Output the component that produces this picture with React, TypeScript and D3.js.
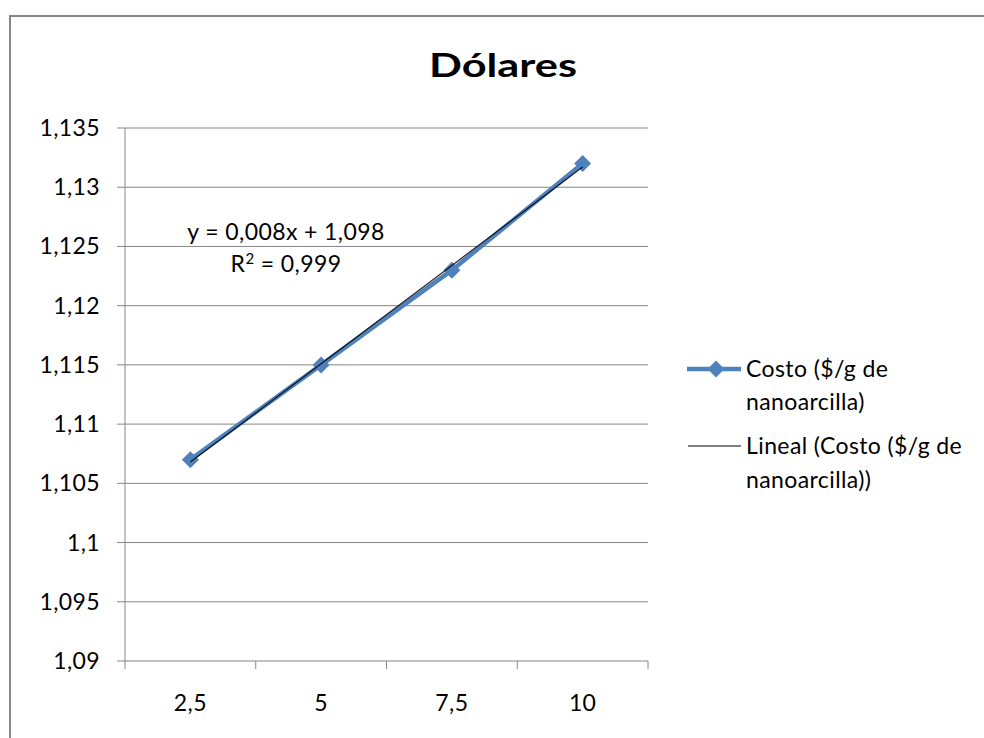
import React from "react";
import * as d3 from "d3";

const categories = ["2,5", "5", "7,5", "10"];
const costValues = [1.107, 1.115, 1.123, 1.132];
const yTicks = [1.09, 1.095, 1.1, 1.105, 1.11, 1.115, 1.12, 1.125, 1.13, 1.135];
const seriesLines = ["Costo ($/g de", "nanoarcilla)"];
const trendLines = ["Lineal (Costo ($/g de", "nanoarcilla))"];
const titleText = "Dólares";

const FONT = "Lato, 'Open Sans', 'Liberation Sans', sans-serif";

export default function App() {
  const W = 984, H = 738;
  const left = 125, right = 648, top = 128, bottom = 661;

  const x = d3.scaleBand<string>().domain(categories).range([left, right]).padding(0);
  const y = d3.scaleLinear().domain([1.09, 1.135]).range([bottom, top]);
  const cx = (i: number) => (x(categories[i]) as number) + x.bandwidth() / 2;

  // linear regression on category index 1..n
  const xs = costValues.map((_, i) => i + 1);
  const mx = d3.mean(xs) as number;
  const my = d3.mean(costValues) as number;
  const slope =
    (d3.sum(xs.map((xi, i) => (xi - mx) * (costValues[i] - my))) as number) /
    (d3.sum(xs.map((xi) => (xi - mx) ** 2)) as number);
  const intercept = my - slope * mx;
  const trendPts: [number, number][] = xs.map((xi, i) => [cx(i), y(intercept + slope * xi)]);

  const line = d3.line<[number, number]>();
  const dataPts: [number, number][] = costValues.map((v, i) => [cx(i), y(v)]);
  const diamond = (px: number, py: number, r: number) =>
    `M${px},${py - r}L${px + r},${py}L${px},${py + r}L${px - r},${py}Z`;

  const blue = "#4F81BD";
  const grid = "#868686";
  const fs = 23;
  const ls = 0.4;

  return (
    <svg width={W} height={H} style={{ position: "absolute", left: 0, top: 0 }} fontFamily={FONT}>
      <rect x={0} y={0} width={W} height={H} fill="#fff" />
      <rect x={10} y={16} width={W + 20} height={H + 20} fill="#fff" stroke="#868686" strokeWidth={2} />
      <text x={503} y={77} textAnchor="middle" fontSize={32} fontWeight="bold" fill="#000"
        textLength={148} lengthAdjust="spacingAndGlyphs">
        {titleText}
      </text>
      {/* gridlines & y ticks */}
      {yTicks.map((t) => (
        <g key={t}>
          <line x1={117} x2={right} y1={y(t)} y2={y(t)} stroke={grid} strokeWidth={1} />
          <text x={100} y={y(t) + 8} textAnchor="end" fontSize={fs} letterSpacing={ls} fill="#000">
            {d3.format(".3~f")(t).replace(".", ",")}
          </text>
        </g>
      ))}
      <line x1={left} x2={left} y1={top} y2={bottom} stroke={grid} strokeWidth={1} />
      {/* x ticks */}
      {[...categories.map((c) => x(c) as number), right].map((xv, i) => (
        <line key={i} x1={xv} x2={xv} y1={bottom} y2={bottom + 8} stroke={grid} strokeWidth={1} />
      ))}
      {categories.map((c, i) => (
        <text key={c} x={cx(i)} y={711} textAnchor="middle" fontSize={fs} letterSpacing={ls} fill="#000">
          {c}
        </text>
      ))}
      {/* series */}
      <path d={line(dataPts) as string} fill="none" stroke={blue} strokeWidth={4.5} strokeLinejoin="round" />
      {dataPts.map(([px, py], i) => (
        <path key={i} d={diamond(px, py, 8.5)} fill={blue} />
      ))}
      <path d={line(trendPts) as string} fill="none" stroke="#000" strokeWidth={1.2} opacity={0.85} />
      {/* equation */}
      <text x={286} y={240} textAnchor="middle" fontSize={fs} letterSpacing={ls} fill="#000">
        y = 0,008x + 1,098
      </text>
      <text x={286} y={272} textAnchor="middle" fontSize={fs} letterSpacing={ls} fill="#000">
        R<tspan dy={-8} fontSize={15}>2</tspan>
        <tspan dy={8}> = 0,999</tspan>
      </text>
      {/* legend */}
      <line x1={687} x2={741} y1={369} y2={369} stroke={blue} strokeWidth={4.5} />
      <path d={diamond(716, 369, 8.5)} fill={blue} />
      {seriesLines.map((s, i) => (
        <text key={s} x={746} y={377 + i * 33} fontSize={fs} letterSpacing={ls} fill="#000">
          {s}
        </text>
      ))}
      <line x1={688} x2={741} y1={446} y2={446} stroke="#000" strokeWidth={1.2} />
      {trendLines.map((s, i) => (
        <text key={s} x={746} y={454 + i * 34} fontSize={fs} letterSpacing={ls} fill="#000">
          {s}
        </text>
      ))}
    </svg>
  );
}
